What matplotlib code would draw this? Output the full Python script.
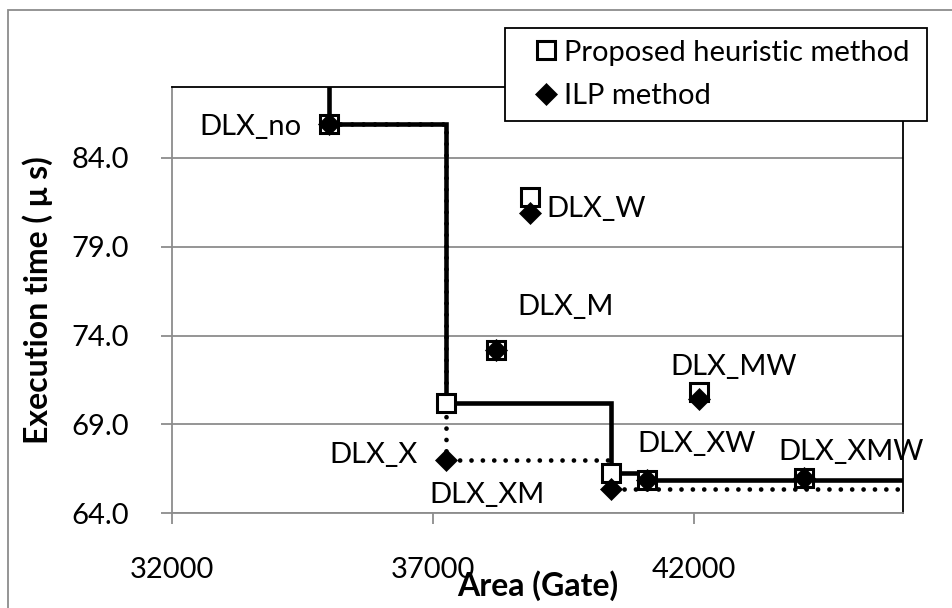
import matplotlib
matplotlib.use('Agg')
import matplotlib.pyplot as plt
from matplotlib.patches import Rectangle
from matplotlib.ticker import FormatStrFormatter

plt.rcParams['font.family'] = ['Lato', 'DejaVu Sans']

# ---- data ----
names = ["DLX_no", "DLX_W", "DLX_M", "DLX_X", "DLX_XM", "DLX_XW", "DLX_MW", "DLX_XMW"]
area = [35000, 38850, 38200, 37250, 40400, 41100, 42100, 44100]
time_heuristic = [85.9, 81.8, 73.2, 70.2, 66.25, 65.85, 70.8, 65.95]
time_ilp = [85.9, 80.9, 73.2, 67.0, 65.35, 65.85, 70.45, 65.95]
x_ticks = [32000, 37000, 42000]
y_ticks = [64, 69, 74, 79, 84]
x_range = (32000, 46000)
y_range = (64, 88)
series_names = ["Proposed heuristic method", "ILP method"]

# label placement (pixel offsets from heuristic point, ha)
label_style = {
    "DLX_no": (-27, 11, 'right'),
    "DLX_W": (17, 20, 'left'),
    "DLX_M": (22, -35, 'left'),
    "DLX_X": (-29, 60, 'right'),
    "DLX_XM": (-66, 30, 'right'),
    "DLX_XW": (-10, -28, 'left'),
    "DLX_MW": (-29, -17, 'left'),
    "DLX_XMW": (-25, -18, 'left'),
}


def pareto(xs, ys):
    order = sorted(range(len(xs)), key=lambda i: xs[i])
    fx, fy = [], []
    best = float('inf')
    for i in order:
        if ys[i] < best:
            best = ys[i]
            fx.append(xs[i])
            fy.append(ys[i])
    return fx, fy


W, H = 953, 608
fig = plt.figure(figsize=(W / 100, H / 100), dpi=100)
L, R, T, B = 172, 903, 87, 513
ax = fig.add_axes([L / W, 1 - B / H, (R - L) / W, (B - T) / H])

FS = 21
FS_TITLE = 23
GRAY = '#8c8c8c'

# fronts
hfx, hfy = pareto(area, time_heuristic)
ifx, ify = pareto(area, time_ilp)
hx = [hfx[0]] + hfx + [x_range[1]]
hy = [y_range[1]] + hfy + [hfy[-1]]
ix = ifx + [x_range[1]]
iy = ify + [ify[-1]]

ax.plot(ix, iy, drawstyle='steps-post', color='black', lw=3.4,
        linestyle=(0, (0.01, 2.4)), dash_capstyle='round', zorder=2)
ax.plot(hx, hy, drawstyle='steps-post', color='black', lw=3.3,
        solid_joinstyle='miter', solid_capstyle='round', zorder=3)

h1, = ax.plot(area, time_heuristic, ls='none', marker='s', ms=13,
              mfc='white', mec='black', mew=2.2, zorder=4, label=series_names[0])
h2, = ax.plot(area, time_ilp, ls='none', marker='D', ms=11,
              mfc='black', mec='black', mew=0.5, zorder=5, label=series_names[1])

for n, x, y in zip(names, area, time_heuristic):
    dx, dy, ha = label_style[n]
    ax.annotate(n, (x, y), xytext=(dx, -dy), textcoords='offset pixels',
                ha=ha, va='baseline', fontsize=FS, zorder=6,
                annotation_clip=False)

ax.set_xlim(*x_range)
ax.set_ylim(*y_range)
ax.set_xticks(x_ticks)
ax.set_yticks(y_ticks)
ax.xaxis.set_major_formatter(FormatStrFormatter('%d'))
ax.yaxis.set_major_formatter(FormatStrFormatter('%.1f'))
ax.tick_params(direction='out', length=8, width=1.3, color=GRAY,
               labelsize=FS, labelcolor='black')
ax.tick_params(axis='y', pad=23)
ax.tick_params(axis='x', pad=24)
ax.yaxis.grid(True, color=GRAY, lw=1.3)
ax.set_axisbelow(True)
for s in ['left', 'bottom']:
    ax.spines[s].set_color(GRAY)
    ax.spines[s].set_linewidth(1.3)
for s in ['top', 'right']:
    ax.spines[s].set_color('black')
    ax.spines[s].set_linewidth(1.3)

fig.text(38 / W, 1 - 300 / H, "Execution time ( μ s)", rotation=90,
         ha='center', va='center', fontsize=FS_TITLE, fontweight='bold')
fig.text(537.5 / W, 1 - 596 / H, "Area (Gate)", ha='center', va='baseline',
         fontsize=FS_TITLE, fontweight='bold')

leg = ax.legend(handles=[h1, h2], loc='upper left', mode='expand',
                bbox_to_anchor=(505 / W, 1 - 123 / H, 422 / W, 95 / H),
                bbox_transform=fig.transFigure,
                borderaxespad=0, fancybox=False, framealpha=1, edgecolor='black',
                fontsize=FS, handlelength=2.0, handletextpad=-0.39,
                borderpad=0.4, labelspacing=0.6)
leg.get_frame().set_linewidth(1.3)
leg.set_zorder(10)

fig.add_artist(Rectangle((8 / W, -0.1), 1.2, 1.1 - 10 / H, transform=fig.transFigure,
                         fill=False, edgecolor=GRAY, lw=1.3, clip_on=False))

fig.savefig('out.png', dpi=100)
